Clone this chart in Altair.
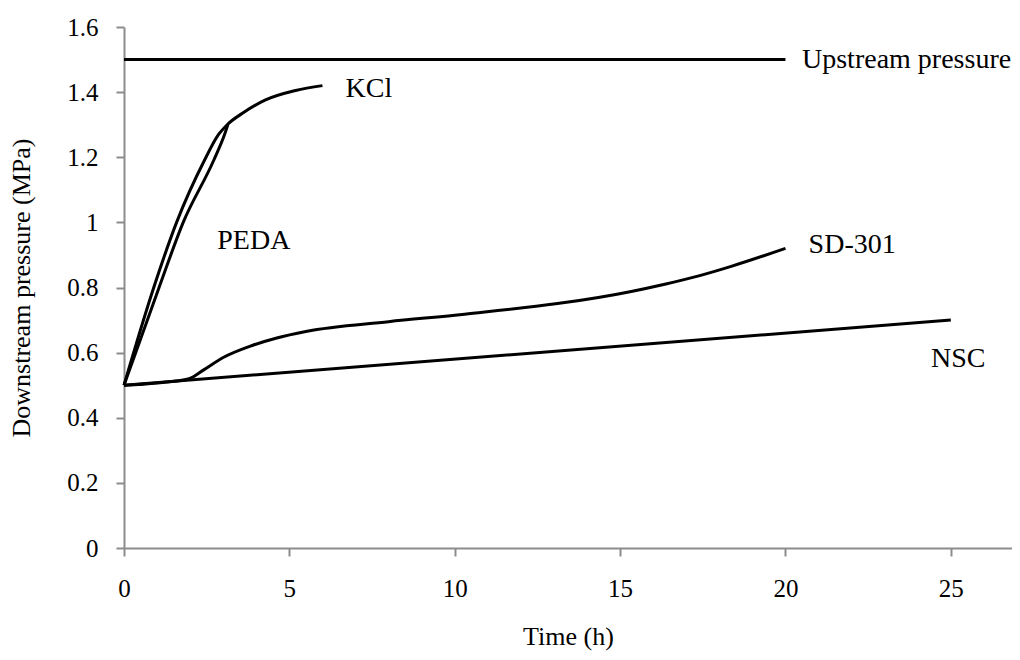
import altair as alt
import pandas as pd

# Series values
up_t = [0, 20]
up_v = [1.5, 1.5]

kcl_t = [0, 0.9, 1.59, 2.43, 2.86, 3.12, 3.58, 4.28, 5.19, 6.0]
kcl_v = [0.5, 0.8, 1.0, 1.19, 1.27, 1.30, 1.335, 1.376, 1.405, 1.42]

peda_t = [0, 1.06, 1.79, 2.71, 3.04, 3.14]
peda_v = [0.5, 0.8, 1.0, 1.19, 1.27, 1.30]

sd_t = [0, 1.0, 1.97, 2.41, 3.0, 3.82, 4.62, 5.5, 8.0, 10.3, 15.3, 16.35, 17.35, 18.36, 20]
sd_v = [0.5, 0.507, 0.52, 0.547, 0.585, 0.62, 0.645, 0.665, 0.695, 0.718, 0.787, 0.81, 0.835, 0.865, 0.92]

nsc_t = [0, 25]
nsc_v = [0.5, 0.70]

label_text = ["Upstream pressure", "KCl", "PEDA", "SD-301", "NSC"]
label_t = [20.5, 6.7, 2.82, 20.7, 24.4]
label_v = [1.5, 1.41, 0.943, 0.93, 0.58]

x_ticks = [0, 5, 10, 15, 20, 25]
y_ticks = [0, 0.2, 0.4, 0.6, 0.8, 1.0, 1.2, 1.4, 1.6]

rows = []
for name, ts, vs in [("Upstream", up_t, up_v), ("KCl", kcl_t, kcl_v),
                     ("PEDA", peda_t, peda_v), ("SD-301", sd_t, sd_v),
                     ("NSC", nsc_t, nsc_v)]:
    for i, (t, v) in enumerate(zip(ts, vs)):
        rows.append({"series": name, "i": i, "t": t, "v": v})
df = pd.DataFrame(rows)
lab = pd.DataFrame({"text": label_text, "t": label_t, "v": label_v})

FONT = "Liberation Serif, 'Times New Roman', DejaVu Serif, serif"

x = alt.X("t:Q", scale=alt.Scale(domain=[0, 26.85], nice=False),
          axis=alt.Axis(title="Time (h)", values=x_ticks, grid=False,
                        tickSize=8, labelPadding=20, titlePadding=22,
                        labelFlush=False))
y = alt.Y("v:Q", scale=alt.Scale(domain=[0, 1.6], nice=False),
          axis=alt.Axis(title="Downstream pressure (MPa)", values=y_ticks,
                        format="~g", grid=False, tickSize=8, labelPadding=18,
                        titlePadding=32, labelFlush=False))

lines = alt.Chart(df).mark_line(color="black", strokeWidth=3,
                                interpolate="monotone").encode(
    x=x, y=y, detail="series:N", order="i:Q")

texts = alt.Chart(lab).mark_text(align="left", baseline="middle",
                                 font=FONT, fontSize=28, color="black").encode(
    x="t:Q", y="v:Q", text="text:N")

chart = (lines + texts).properties(
    width=888, height=521,
    autosize=alt.AutoSizeParams(type="none"),
    padding={"left": 116, "top": 19, "right": 0, "bottom": 104},
).configure_view(stroke=None).configure_axis(
    domainColor="#8c8c8c", tickColor="#8c8c8c", domainWidth=2, tickWidth=2,
    labelFont=FONT, titleFont=FONT, labelFontSize=25, titleFontSize=26,
    labelColor="black", titleColor="black", titleFontWeight="normal",
)

chart.save("out.html", embed_options={"renderer": "svg", "actions": False})
